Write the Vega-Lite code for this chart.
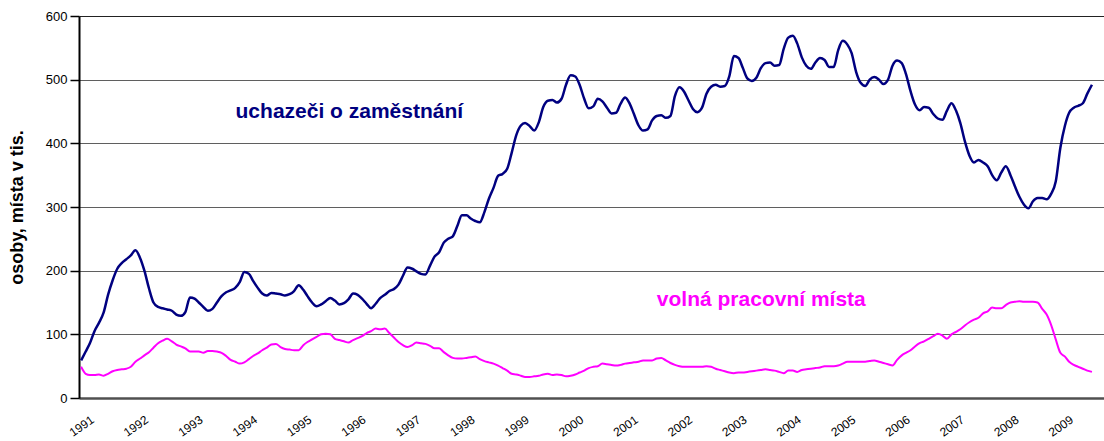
{
  "$schema": "https://vega.github.io/schema/vega-lite/v6.json",
  "width": 1025,
  "height": 382,
  "autosize": {"type": "none"},
  "padding": {"left": 79, "top": 16, "right": 0, "bottom": 43},
  "background": "white",
  "config": {"view": {"stroke": null}, "font": "Liberation Sans"},
  "datasets": {
    "series": [
      {"d":"1991-01-01","u":59,"v":49},{"d":"1991-02-01","u":73,"v":38},{"d":"1991-03-01","u":86,"v":36},{"d":"1991-04-01","u":105,"v":36},{"d":"1991-05-01","u":118,"v":37},{"d":"1991-06-01","u":134,"v":35},{"d":"1991-07-01","u":162,"v":38},{"d":"1991-08-01","u":185,"v":42},{"d":"1991-09-01","u":203,"v":44},{"d":"1991-10-01","u":212,"v":45},{"d":"1991-11-01","u":218,"v":46},{"d":"1991-12-01","u":224,"v":49},
      {"d":"1992-01-01","u":232,"v":57},{"d":"1992-02-01","u":220,"v":62},{"d":"1992-03-01","u":200,"v":67},{"d":"1992-04-01","u":172,"v":72},{"d":"1992-05-01","u":150,"v":79},{"d":"1992-06-01","u":143,"v":86},{"d":"1992-07-01","u":141,"v":90},{"d":"1992-08-01","u":139,"v":93},{"d":"1992-09-01","u":137,"v":89},{"d":"1992-10-01","u":131,"v":84},{"d":"1992-11-01","u":129,"v":81},{"d":"1992-12-01","u":135,"v":78},
      {"d":"1993-01-01","u":158,"v":73},{"d":"1993-02-01","u":156,"v":73},{"d":"1993-03-01","u":150,"v":73},{"d":"1993-04-01","u":143,"v":71},{"d":"1993-05-01","u":137,"v":74},{"d":"1993-06-01","u":140,"v":74},{"d":"1993-07-01","u":150,"v":73},{"d":"1993-08-01","u":160,"v":71},{"d":"1993-09-01","u":166,"v":66},{"d":"1993-10-01","u":169,"v":60},{"d":"1993-11-01","u":173,"v":57},{"d":"1993-12-01","u":182,"v":54},
      {"d":"1994-01-01","u":198,"v":56},{"d":"1994-02-01","u":195,"v":61},{"d":"1994-03-01","u":184,"v":66},{"d":"1994-04-01","u":173,"v":70},{"d":"1994-05-01","u":164,"v":75},{"d":"1994-06-01","u":161,"v":79},{"d":"1994-07-01","u":165,"v":84},{"d":"1994-08-01","u":164,"v":85},{"d":"1994-09-01","u":163,"v":80},{"d":"1994-10-01","u":161,"v":77},{"d":"1994-11-01","u":163,"v":76},{"d":"1994-12-01","u":168,"v":75},
      {"d":"1995-01-01","u":177,"v":75},{"d":"1995-02-01","u":170,"v":83},{"d":"1995-03-01","u":160,"v":88},{"d":"1995-04-01","u":150,"v":92},{"d":"1995-05-01","u":144,"v":96},{"d":"1995-06-01","u":147,"v":100},{"d":"1995-07-01","u":152,"v":101},{"d":"1995-08-01","u":157,"v":100},{"d":"1995-09-01","u":153,"v":93},{"d":"1995-10-01","u":147,"v":91},{"d":"1995-11-01","u":149,"v":89},{"d":"1995-12-01","u":155,"v":87},
      {"d":"1996-01-01","u":164,"v":91},{"d":"1996-02-01","u":162,"v":94},{"d":"1996-03-01","u":156,"v":97},{"d":"1996-04-01","u":148,"v":102},{"d":"1996-05-01","u":141,"v":105},{"d":"1996-06-01","u":148,"v":109},{"d":"1996-07-01","u":157,"v":108},{"d":"1996-08-01","u":162,"v":109},{"d":"1996-09-01","u":168,"v":102},{"d":"1996-10-01","u":171,"v":95},{"d":"1996-11-01","u":178,"v":88},{"d":"1996-12-01","u":192,"v":83},
      {"d":"1997-01-01","u":205,"v":80},{"d":"1997-02-01","u":203,"v":83},{"d":"1997-03-01","u":199,"v":87},{"d":"1997-04-01","u":195,"v":86},{"d":"1997-05-01","u":194,"v":85},{"d":"1997-06-01","u":208,"v":82},{"d":"1997-07-01","u":222,"v":78},{"d":"1997-08-01","u":229,"v":78},{"d":"1997-09-01","u":244,"v":72},{"d":"1997-10-01","u":250,"v":67},{"d":"1997-11-01","u":254,"v":63},{"d":"1997-12-01","u":270,"v":62},
      {"d":"1998-01-01","u":287,"v":62},{"d":"1998-02-01","u":287,"v":63},{"d":"1998-03-01","u":282,"v":64},{"d":"1998-04-01","u":278,"v":65},{"d":"1998-05-01","u":276,"v":61},{"d":"1998-06-01","u":292,"v":58},{"d":"1998-07-01","u":313,"v":56},{"d":"1998-08-01","u":330,"v":54},{"d":"1998-09-01","u":349,"v":51},{"d":"1998-10-01","u":352,"v":47},{"d":"1998-11-01","u":360,"v":43},{"d":"1998-12-01","u":385,"v":38},
      {"d":"1999-01-01","u":413,"v":37},{"d":"1999-02-01","u":428,"v":35},{"d":"1999-03-01","u":432,"v":33},{"d":"1999-04-01","u":427,"v":33},{"d":"1999-05-01","u":420,"v":34},{"d":"1999-06-01","u":433,"v":35},{"d":"1999-07-01","u":457,"v":37},{"d":"1999-08-01","u":467,"v":38},{"d":"1999-09-01","u":468,"v":36},{"d":"1999-10-01","u":464,"v":37},{"d":"1999-11-01","u":470,"v":36},{"d":"1999-12-01","u":492,"v":34},
      {"d":"2000-01-01","u":507,"v":35},{"d":"2000-02-01","u":505,"v":37},{"d":"2000-03-01","u":492,"v":40},{"d":"2000-04-01","u":470,"v":43},{"d":"2000-05-01","u":455,"v":47},{"d":"2000-06-01","u":458,"v":49},{"d":"2000-07-01","u":470,"v":50},{"d":"2000-08-01","u":466,"v":54},{"d":"2000-09-01","u":456,"v":53},{"d":"2000-10-01","u":447,"v":52},{"d":"2000-11-01","u":448,"v":51},{"d":"2000-12-01","u":462,"v":52},
      {"d":"2001-01-01","u":472,"v":54},{"d":"2001-02-01","u":462,"v":55},{"d":"2001-03-01","u":446,"v":56},{"d":"2001-04-01","u":428,"v":57},{"d":"2001-05-01","u":420,"v":59},{"d":"2001-06-01","u":422,"v":59},{"d":"2001-07-01","u":436,"v":59},{"d":"2001-08-01","u":443,"v":62},{"d":"2001-09-01","u":444,"v":63},{"d":"2001-10-01","u":440,"v":59},{"d":"2001-11-01","u":443,"v":55},{"d":"2001-12-01","u":474,"v":52},
      {"d":"2002-01-01","u":488,"v":50},{"d":"2002-02-01","u":481,"v":49},{"d":"2002-03-01","u":468,"v":49},{"d":"2002-04-01","u":454,"v":49},{"d":"2002-05-01","u":449,"v":49},{"d":"2002-06-01","u":456,"v":49},{"d":"2002-07-01","u":478,"v":50},{"d":"2002-08-01","u":489,"v":49},{"d":"2002-09-01","u":492,"v":46},{"d":"2002-10-01","u":489,"v":44},{"d":"2002-11-01","u":490,"v":42},{"d":"2002-12-01","u":505,"v":40},
      {"d":"2003-01-01","u":537,"v":39},{"d":"2003-02-01","u":534,"v":40},{"d":"2003-03-01","u":519,"v":40},{"d":"2003-04-01","u":502,"v":41},{"d":"2003-05-01","u":498,"v":42},{"d":"2003-06-01","u":503,"v":43},{"d":"2003-07-01","u":518,"v":44},{"d":"2003-08-01","u":526,"v":45},{"d":"2003-09-01","u":527,"v":44},{"d":"2003-10-01","u":522,"v":43},{"d":"2003-11-01","u":523,"v":41},{"d":"2003-12-01","u":548,"v":39},
      {"d":"2004-01-01","u":566,"v":43},{"d":"2004-02-01","u":569,"v":43},{"d":"2004-03-01","u":557,"v":41},{"d":"2004-04-01","u":535,"v":44},{"d":"2004-05-01","u":522,"v":45},{"d":"2004-06-01","u":517,"v":46},{"d":"2004-07-01","u":527,"v":47},{"d":"2004-08-01","u":534,"v":48},{"d":"2004-09-01","u":531,"v":50},{"d":"2004-10-01","u":520,"v":50},{"d":"2004-11-01","u":520,"v":50},{"d":"2004-12-01","u":546,"v":51},
      {"d":"2005-01-01","u":561,"v":54},{"d":"2005-02-01","u":555,"v":57},{"d":"2005-03-01","u":542,"v":57},{"d":"2005-04-01","u":512,"v":57},{"d":"2005-05-01","u":495,"v":57},{"d":"2005-06-01","u":490,"v":57},{"d":"2005-07-01","u":500,"v":58},{"d":"2005-08-01","u":504,"v":59},{"d":"2005-09-01","u":500,"v":57},{"d":"2005-10-01","u":493,"v":55},{"d":"2005-11-01","u":500,"v":53},{"d":"2005-12-01","u":522,"v":51},
      {"d":"2006-01-01","u":530,"v":60},{"d":"2006-02-01","u":526,"v":67},{"d":"2006-03-01","u":509,"v":71},{"d":"2006-04-01","u":482,"v":75},{"d":"2006-05-01","u":461,"v":81},{"d":"2006-06-01","u":452,"v":86},{"d":"2006-07-01","u":457,"v":89},{"d":"2006-08-01","u":456,"v":93},{"d":"2006-09-01","u":446,"v":97},{"d":"2006-10-01","u":439,"v":101},{"d":"2006-11-01","u":437,"v":98},{"d":"2006-12-01","u":451,"v":93},
      {"d":"2007-01-01","u":463,"v":100},{"d":"2007-02-01","u":451,"v":104},{"d":"2007-03-01","u":432,"v":108},{"d":"2007-04-01","u":403,"v":114},{"d":"2007-05-01","u":381,"v":119},{"d":"2007-06-01","u":370,"v":123},{"d":"2007-07-01","u":374,"v":126},{"d":"2007-08-01","u":370,"v":133},{"d":"2007-09-01","u":364,"v":136},{"d":"2007-10-01","u":350,"v":142},{"d":"2007-11-01","u":342,"v":141},{"d":"2007-12-01","u":354,"v":141},
      {"d":"2008-01-01","u":364,"v":146},{"d":"2008-02-01","u":350,"v":150},{"d":"2008-03-01","u":333,"v":151},{"d":"2008-04-01","u":316,"v":152},{"d":"2008-05-01","u":304,"v":151},{"d":"2008-06-01","u":298,"v":151},{"d":"2008-07-01","u":309,"v":151},{"d":"2008-08-01","u":314,"v":150},{"d":"2008-09-01","u":314,"v":140},{"d":"2008-10-01","u":312,"v":131},{"d":"2008-11-01","u":321,"v":114},{"d":"2008-12-01","u":340,"v":92},
      {"d":"2009-01-01","u":393,"v":71},{"d":"2009-02-01","u":428,"v":65},{"d":"2009-03-01","u":448,"v":57},{"d":"2009-04-01","u":456,"v":52},{"d":"2009-05-01","u":459,"v":49},{"d":"2009-06-01","u":463,"v":46},{"d":"2009-07-01","u":478,"v":43},{"d":"2009-08-01","u":492,"v":41}
    ],
    "labels": [
      {"t": "uchazeči o zaměstnání", "d": "1995-12-07", "y": 440, "k": "u"},
      {"t": "volná pracovní místa", "d": "2003-07-04", "y": 144, "k": "v"}
    ]
  },
  "layer": [
    {
      "data": {"name": "series"},
      "mark": {"type": "line", "color": "#ff00ff", "strokeWidth": 2, "interpolate": "monotone"},
      "encoding": {
        "x": {
          "field": "d", "type": "temporal",
          "scale": {"type": "utc", "domain": [{"year": 1990, "month": 12, "date": 18, "utc": true}, {"year": 2009, "month": 10, "date": 21, "utc": true}]},
          "axis": {
            "title": null, "format": "%Y", "tickCount": {"interval": "year", "step": 1},
            "ticks": false, "grid": false, "domainColor": "#505050", "domainWidth": 2.5,
            "labelAngle": -35, "labelAlign": "right", "labelBaseline": "middle",
            "labelOffset": 11, "labelPadding": 20, "labelFontSize": 12, "labelColor": "#000",
            "labelOverlap": false, "labelFlush": false, "labelBound": false
          }
        },
        "y": {
          "field": "v", "type": "quantitative",
          "scale": {"domain": [0, 600], "nice": false},
          "axis": {
            "values": [0, 100, 200, 300, 400, 500, 600],
            "title": "osoby, místa v tis.", "titleFontSize": 18, "titleFontWeight": "bold", "titleColor": "#000", "titlePadding": 19,
            "grid": true, "gridColor": {"condition": {"test": "datum.value === 600", "value": "#222222"}, "value": "#5f5f5f"},
            "gridWidth": 1, "domainColor": "#000", "domainWidth": 2, "tickColor": "#000", "tickSize": 9, "tickWidth": 1.5,
            "labelFontSize": 13, "labelColor": "#000", "labelPadding": 3
          }
        }
      }
    },
    {
      "data": {"name": "series"},
      "mark": {"type": "line", "color": "#000080", "strokeWidth": 2.5, "interpolate": "monotone"},
      "encoding": {
        "x": {"field": "d", "type": "temporal"},
        "y": {"field": "u", "type": "quantitative"}
      }
    },
    {
      "data": {"name": "labels"},
      "mark": {"type": "text", "fontWeight": "bold", "fontSize": 21, "align": "center", "baseline": "alphabetic"},
      "encoding": {
        "x": {"field": "d", "type": "temporal"},
        "y": {"field": "y", "type": "quantitative"},
        "text": {"field": "t"},
        "color": {"field": "k", "type": "nominal", "scale": {"domain": ["u", "v"], "range": ["#000080", "#ff00ff"]}, "legend": null}
      }
    }
  ]
}
